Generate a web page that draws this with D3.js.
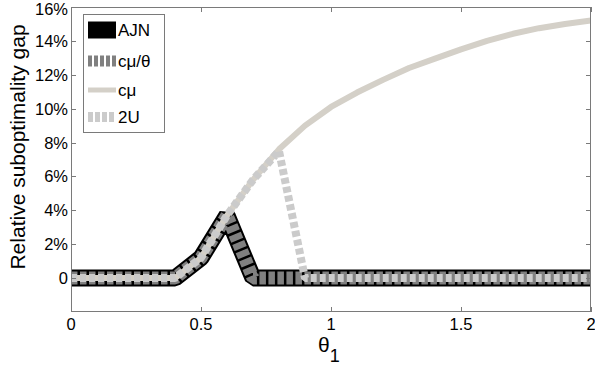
<!DOCTYPE html>
<html lang="en">
<head>
<meta charset="UTF-8">
<title>Relative suboptimality gap</title>
<script src="https://d3js.org/d3.v7.min.js"></script>
<style>
    body { margin: 0; background: #fff; }
    svg { font-family: "Liberation Sans", Arial, sans-serif; display: block; }
    .frame { fill: none; stroke: #7a7a7a; stroke-width: 1; }
    .tick-label { font-size: 16.5px; fill: #000; }
</style>
</head>
<body>
<div id="chart"></div>
<script>
// theta_1 grid and series (relative gap in %)
const theta = [0, 0.1, 0.2, 0.3, 0.4, 0.5, 0.6, 0.7, 0.8, 0.9, 1.0,
               1.1, 1.2, 1.3, 1.4, 1.5, 1.6, 1.7, 1.8, 1.9, 2.0];
const ajn     = [0, 0, 0, 0, 0, 1.2, 3.7, 0, 0, 0, 0, 0, 0, 0, 0, 0, 0, 0, 0, 0, 0];
const cmuTheta = [0, 0, 0, 0, 0, 1.2, 3.7, 0, 0, 0, 0, 0, 0, 0, 0, 0, 0, 0, 0, 0, 0];
const cmu     = [0, 0, 0, 0, 0, 1.2, 3.7, 5.8, 7.6, 9.0, 10.1,
                 10.95, 11.7, 12.4, 12.95, 13.5, 14.0, 14.42, 14.75, 15.0, 15.2];
const twoU    = [0, 0, 0, 0, 0, 1.2, 3.7, 5.8, 7.5, 0, 0, 0, 0, 0, 0, 0, 0, 0, 0, 0, 0];

const xTicks = [0, 0.5, 1, 1.5, 2];
const yTicks = [0, 2, 4, 6, 8, 10, 12, 14, 16];
const legendNames = ["AJN", "cμ/θ", "cμ", "2U"];

const W = 595, H = 369;
const mLeft = 71, mRight = 591, mTop = 7, mBottom = 312;

const svg = d3.select("#chart").append("svg")
    .attr("width", W).attr("height", H);

const x = d3.scaleLinear().domain([0, 2]).range([mLeft, mRight]);
const y = d3.scaleLinear().domain([-2, 16]).range([mBottom, mTop]);

// line styles, drawn bottom to top
const series = [
    { name: "AJN", values: ajn, color: "#000000", width: 17, dash: null },
    { name: "cμ/θ", values: cmuTheta, color: "#808080", width: 13, dash: "6.5,2.5" },
    { name: "cμ", values: cmu, color: "#d4d0c8", width: 6, dash: null },
    { name: "2U", values: twoU, color: "#cbcbcb", width: 8, dash: "6,3" }
];

svg.append("defs").append("clipPath").attr("id", "plot-clip")
    .append("rect")
    .attr("x", mLeft).attr("y", mTop)
    .attr("width", mRight - mLeft).attr("height", mBottom - mTop);

const line = d3.line()
    .x(d => x(d[0]))
    .y(d => y(d[1]));

const plot = svg.append("g").attr("clip-path", "url(#plot-clip)");
series.forEach(s => {
    plot.append("path")
        .datum(theta.map((t, i) => [t, s.values[i]]))
        .attr("d", line)
        .attr("fill", "none")
        .attr("stroke", s.color)
        .attr("stroke-width", s.width)
        .attr("stroke-linejoin", "bevel")
        .attr("stroke-linecap", "butt")
        .attr("stroke-dasharray", s.dash);
});

// box and ticks (inside, on all four sides)
svg.append("rect").attr("class", "frame")
    .attr("x", mLeft + 0.5).attr("y", mTop + 0.5)
    .attr("width", mRight - mLeft - 1).attr("height", mBottom - mTop - 1);

const tickLen = 5;
const tickG = svg.append("g").attr("stroke", "#7a7a7a").attr("stroke-width", 1);
xTicks.forEach(t => {
    const px = Math.round(x(t)) + 0.5;
    tickG.append("line").attr("x1", px).attr("x2", px).attr("y1", mBottom).attr("y2", mBottom - tickLen);
    tickG.append("line").attr("x1", px).attr("x2", px).attr("y1", mTop).attr("y2", mTop + tickLen);
});
yTicks.forEach(t => {
    const py = Math.round(y(t)) + 0.5;
    tickG.append("line").attr("x1", mLeft).attr("x2", mLeft + tickLen).attr("y1", py).attr("y2", py);
    tickG.append("line").attr("x1", mRight).attr("x2", mRight - tickLen).attr("y1", py).attr("y2", py);
});

svg.append("g").selectAll("text")
    .data(xTicks).enter().append("text")
    .attr("class", "tick-label")
    .attr("x", d => x(d))
    .attr("y", 330)
    .attr("text-anchor", "middle")
    .text(d => d);

// keep the top label inside the window
svg.append("g").selectAll("text")
    .data(yTicks).enter().append("text")
    .attr("class", "tick-label")
    .attr("x", mLeft - 3)
    .attr("y", d => Math.max(y(d) + 6, 15))
    .attr("text-anchor", "end")
    .text(d => d === 0 ? "0" : d + "%");

// axis titles
svg.append("text")
    .attr("transform", "translate(25,147) rotate(-90)")
    .attr("text-anchor", "middle")
    .style("font-size", "21px")
    .text("Relative suboptimality gap");

const xt = svg.append("text")
    .attr("x", 318)
    .attr("y", 352)
    .style("font-size", "21px");
xt.append("tspan").text("θ");
xt.append("tspan").attr("dy", 10).style("font-size", "18px").text("1");

// legend
const lg = svg.append("g");
lg.append("rect")
    .attr("x", 83.5).attr("y", 14.5)
    .attr("width", 81).attr("height", 118)
    .attr("fill", "#fff").attr("stroke", "#7a7a7a");
const legendY = [30, 61, 90, 117];
series.forEach((s, i) => {
    lg.append("line")
        .attr("x1", 88).attr("x2", 116)
        .attr("y1", legendY[i]).attr("y2", legendY[i])
        .attr("stroke", s.color)
        .attr("stroke-width", s.name === "cμ" ? 5 : (s.name === "cμ/θ" ? 11 : (s.name === "2U" ? 10 : s.width)))
        .attr("stroke-dasharray", s.name === "cμ/θ" ? "4,2" : (s.name === "2U" ? "5,2" : null));
    lg.append("text")
        .attr("x", 118).attr("y", legendY[i] + 6)
        .style("font-size", "17px")
        .text(legendNames[i]);
});
</script>
</body>
</html>
